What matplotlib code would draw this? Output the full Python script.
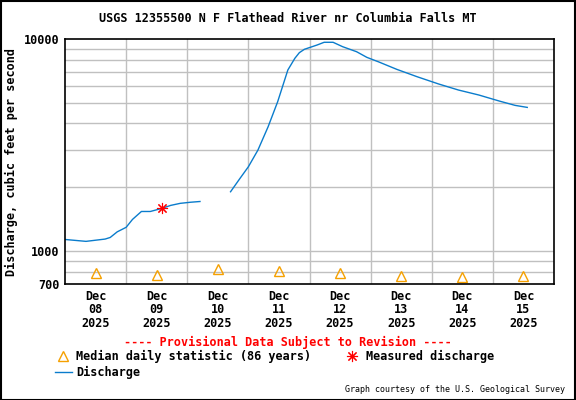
import matplotlib
matplotlib.use("Agg")
import matplotlib.pyplot as plt
from matplotlib.ticker import FixedLocator, NullFormatter
from matplotlib.patches import Rectangle
from matplotlib.lines import Line2D
import pandas as pd

# discharge, two segments (gap on Dec 10)
seg1_times = ["2025-12-08 00:00", "2025-12-08 08:15", "2025-12-08 15:45", "2025-12-08 17:45",
              "2025-12-08 20:30", "2025-12-09 00:00", "2025-12-09 02:30", "2025-12-09 06:00",
              "2025-12-09 09:30", "2025-12-09 14:00", "2025-12-09 17:30", "2025-12-09 21:15",
              "2025-12-10 01:15", "2025-12-10 05:00"]
seg1_cfs = [1135, 1112, 1140, 1160, 1233, 1295, 1411, 1538, 1538, 1590, 1643, 1680, 1700, 1714]

seg2_times = ["2025-12-10 17:00", "2025-12-10 20:30", "2025-12-11 00:00", "2025-12-11 03:45",
              "2025-12-11 07:45", "2025-12-11 11:30", "2025-12-11 15:30", "2025-12-11 18:15",
              "2025-12-11 20:00", "2025-12-11 22:00", "2025-12-12 03:00", "2025-12-12 05:45",
              "2025-12-12 09:15", "2025-12-12 13:00", "2025-12-12 18:30", "2025-12-12 22:30",
              "2025-12-13 03:15", "2025-12-13 10:15", "2025-12-13 18:15", "2025-12-14 02:45",
              "2025-12-14 10:30", "2025-12-14 18:30", "2025-12-15 02:30", "2025-12-15 08:45",
              "2025-12-15 13:30"]
seg2_cfs = [1905, 2185, 2499, 2995, 3858, 5062, 7145, 8110, 8618, 8943, 9370, 9650,
            9650, 9200, 8710, 8196, 7791, 7195, 6640, 6134, 5747, 5444, 5100, 4865, 4760]

measured_time = ["2025-12-09 14:00"]
measured_cfs = [1595]

median_days = ["2025-12-08 12:00", "2025-12-09 12:00", "2025-12-10 12:00", "2025-12-11 12:00",
               "2025-12-12 12:00", "2025-12-13 12:00", "2025-12-14 12:00", "2025-12-15 12:00"]
median_cfs = [785, 775, 820, 810, 785, 765, 757, 765]

day_labels = ["Dec\n08\n2025", "Dec\n09\n2025", "Dec\n10\n2025", "Dec\n11\n2025",
              "Dec\n12\n2025", "Dec\n13\n2025", "Dec\n14\n2025", "Dec\n15\n2025"]

mono = "DejaVu Sans Mono"
blue = "#0a7ccc"
orange = "#f5a000"
star = (8, 2, 0)

fig = plt.figure(figsize=(5.76, 4.0), dpi=100)
ax = fig.add_axes([65 / 576, 116 / 400, 489 / 576, 245 / 400])

ax.plot(pd.to_datetime(seg1_times), seg1_cfs, color=blue, lw=1.0)
ax.plot(pd.to_datetime(seg2_times), seg2_cfs, color=blue, lw=1.0)
ax.plot(pd.to_datetime(median_days), median_cfs, ls="none", marker="^", ms=7,
        mfc="none", mec=orange, mew=1.0)
ax.plot(pd.to_datetime(measured_time), measured_cfs, ls="none", marker=star, ms=8,
        color="red", mew=0.8)

ax.set_yscale("log")
ax.set_ylim(700, 10000)
ax.set_xlim(pd.Timestamp("2025-12-08"), pd.Timestamp("2025-12-16"))

grid_vals = [800, 900, 1000, 2000, 3000, 4000, 5000, 6000, 7000, 8000, 9000]
ax.yaxis.set_major_locator(FixedLocator([700, 1000, 10000]))
ax.yaxis.set_minor_locator(FixedLocator(grid_vals))
ax.yaxis.set_major_formatter(matplotlib.ticker.FuncFormatter(lambda v, p: f"{int(v)}"))
ax.yaxis.set_minor_formatter(NullFormatter())
for v in grid_vals:
    ax.axhline(v, color="#c0c0c0", lw=1, zorder=0)

days = pd.date_range("2025-12-09", "2025-12-15", freq="D")
for d in days:
    ax.axvline(d, color="#c0c0c0", lw=1, zorder=0)
ax.set_xticks(pd.to_datetime(median_days))
ax.set_xticklabels(day_labels, fontfamily=mono, fontweight="bold", fontsize=8.5, linespacing=1.05)
ax.tick_params(axis="both", length=0, pad=4)
ax.tick_params(axis="y", which="minor", length=0)
for lab in ax.get_yticklabels():
    lab.set_fontfamily(mono)
    lab.set_fontweight("bold")
    lab.set_fontsize(8.5)
for s in ax.spines.values():
    s.set_linewidth(1.2)

ax.set_ylabel("Discharge, cubic feet per second", fontfamily=mono, fontweight="bold",
              fontsize=8.5, labelpad=4)
fig.text(0.5, 1 - 19 / 400, "USGS 12355500 N F Flathead River nr Columbia Falls MT",
         ha="center", va="center", fontfamily=mono, fontweight="bold", fontsize=8.5)
fig.text(0.5, 1 - 342 / 400, "---- Provisional Data Subject to Revision ----",
         ha="center", va="center", color="red", fontfamily=mono, fontweight="bold", fontsize=8.5)

# legend
fig.add_artist(Line2D([63 / 576], [1 - 356 / 400], marker="^", ms=7, mfc="none",
                      mec=orange, mew=1, ls="none"))
fig.text(76 / 576, 1 - 356 / 400, "Median daily statistic (86 years)", va="center",
         fontfamily=mono, fontweight="bold", fontsize=8.5)
fig.add_artist(Line2D([352 / 576], [1 - 356 / 400], marker=star, ms=8, color="red",
                      mew=0.8, ls="none"))
fig.text(366 / 576, 1 - 356 / 400, "Measured discharge", va="center",
         fontfamily=mono, fontweight="bold", fontsize=8.5)
fig.add_artist(Line2D([55 / 576, 72 / 576], [1 - 372 / 400] * 2, color=blue, lw=1.0))
fig.text(76 / 576, 1 - 372 / 400, "Discharge", va="center",
         fontfamily=mono, fontweight="bold", fontsize=8.5)
fig.text(565 / 576, 1 - 389 / 400, "Graph courtesy of the U.S. Geological Survey",
         ha="right", va="center", fontfamily=mono, fontsize=6)

fig.add_artist(Rectangle((0.001, 0.001), 0.997, 0.997, transform=fig.transFigure,
                         fill=False, ec="black", lw=1.5))

fig.savefig("out.png", dpi=100)
